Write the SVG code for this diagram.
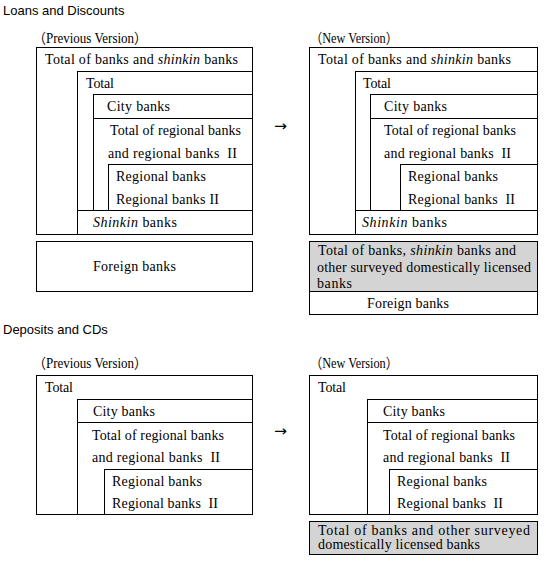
<svg xmlns="http://www.w3.org/2000/svg" width="546" height="561" viewBox="0 0 546 561">
<style>
.b{fill:none;stroke:#000;stroke-width:1}
.g{fill:#d4d4d4;stroke:#000;stroke-width:1}
.w{fill:#fff;stroke:#000;stroke-width:1}
text{font-family:"Liberation Serif","Times New Roman","Noto Sans CJK JP",serif;font-size:14px;fill:#000;white-space:pre}
.h{font-family:"Liberation Sans",Arial,sans-serif;font-size:13px}
.i{font-style:italic}
.a{font-family:"DejaVu Sans",sans-serif;font-size:15px}
</style>
<rect width="546" height="561" fill="#fff"/>
<text class="h" x="3" y="15">Loans and Discounts</text>
<text class="h" x="3" y="334">Deposits and CDs</text>

<g id="connectors">
<text class="a" x="274" y="131" textLength="13" lengthAdjust="spacingAndGlyphs">→</text>
<text class="a" x="274" y="436" textLength="13" lengthAdjust="spacingAndGlyphs">→</text>
</g>

<g id="loans-prev">
<text x="33" y="43" textLength="114" lengthAdjust="spacingAndGlyphs">（Previous Version）</text>
<rect class="b" x="36.5" y="47.5" width="216" height="187"/>
<text x="45" y="64" textLength="193">Total of banks and <tspan class="i">shinkin</tspan> banks</text>
<rect class="b" x="77.5" y="71.5" width="175" height="163"/>
<text x="86" y="88" textLength="28">Total</text>
<rect class="b" x="93.5" y="94.5" width="159" height="116"/>
<line class="b" x1="93.5" y1="118.5" x2="252.5" y2="118.5"/>
<text x="107" y="111" textLength="63">City banks</text>
<text x="110" y="135" textLength="131">Total of regional banks</text>
<text x="108" y="158" textLength="129">and regional banks  II</text>
<rect class="b" x="108.5" y="164.5" width="144" height="46"/>
<text x="116" y="181" textLength="90">Regional banks</text>
<text x="116" y="204" textLength="103">Regional banks II</text>
<line class="b" x1="77.5" y1="210.5" x2="252.5" y2="210.5"/>
<text x="93" y="227" textLength="84"><tspan class="i">Shinkin</tspan> banks</text>
</g>
<g id="loans-prev-foreign">
<rect class="b" x="36.5" y="241.5" width="216" height="50"/>
<text x="93" y="271" textLength="83">Foreign banks</text>
</g>

<g id="loans-new">
<text x="310" y="43" textLength="88" lengthAdjust="spacingAndGlyphs">（New Version）</text>
<rect class="b" x="309.5" y="47.5" width="228" height="187"/>
<text x="318" y="64" textLength="193">Total of banks and <tspan class="i">shinkin</tspan> banks</text>
<rect class="b" x="355.5" y="71.5" width="182" height="163"/>
<text x="363" y="88" textLength="28">Total</text>
<rect class="b" x="370.5" y="94.5" width="167" height="116"/>
<line class="b" x1="370.5" y1="118.5" x2="537.5" y2="118.5"/>
<text x="384" y="111" textLength="63">City banks</text>
<text x="384" y="135" textLength="132">Total of regional banks</text>
<text x="384" y="158" textLength="127">and regional banks  II</text>
<rect class="b" x="400.5" y="164.5" width="137" height="46"/>
<text x="408" y="181" textLength="90">Regional banks</text>
<text x="408" y="204" textLength="107">Regional banks  II</text>
<line class="b" x1="355.5" y1="210.5" x2="537.5" y2="210.5"/>
<text x="362" y="227" textLength="85"><tspan class="i">Shinkin</tspan> banks</text>
</g>
<g id="loans-new-other">
<rect class="g" x="309.5" y="241.5" width="228" height="50"/>
<text x="318" y="255" textLength="198">Total of banks, <tspan class="i">shinkin</tspan> banks and</text>
<text x="317" y="272" textLength="214">other surveyed domestically licensed</text>
<text x="317" y="288" textLength="35">banks</text>
</g>
<g id="loans-new-foreign">
<rect class="w" x="309.5" y="291.5" width="228" height="23"/>
<text x="367" y="308" textLength="82">Foreign banks</text>
</g>

<g id="deposits-prev">
<text x="33" y="368" textLength="114" lengthAdjust="spacingAndGlyphs">（Previous Version）</text>
<rect class="b" x="36.5" y="375.5" width="216" height="139"/>
<text x="45" y="392" textLength="28">Total</text>
<rect class="b" x="77.5" y="399.5" width="175" height="115"/>
<line class="b" x1="77.5" y1="422.5" x2="252.5" y2="422.5"/>
<text x="93" y="416" textLength="62">City banks</text>
<text x="92" y="440" textLength="132">Total of regional banks</text>
<text x="92" y="462" textLength="128">and regional banks  II</text>
<rect class="b" x="104.5" y="469.5" width="148" height="45"/>
<text x="112" y="486" textLength="90">Regional banks</text>
<text x="112" y="508" textLength="106">Regional banks  II</text>
</g>

<g id="deposits-new">
<text x="310" y="368" textLength="88" lengthAdjust="spacingAndGlyphs">（New Version）</text>
<rect class="b" x="309.5" y="375.5" width="228" height="139"/>
<text x="318" y="392" textLength="28">Total</text>
<rect class="b" x="367.5" y="399.5" width="170" height="115"/>
<line class="b" x1="367.5" y1="422.5" x2="537.5" y2="422.5"/>
<text x="383" y="416" textLength="62">City banks</text>
<text x="383" y="440" textLength="132">Total of regional banks</text>
<text x="383" y="462" textLength="127">and regional banks  II</text>
<rect class="b" x="389.5" y="469.5" width="148" height="45"/>
<text x="397" y="486" textLength="90">Regional banks</text>
<text x="397" y="508" textLength="106">Regional banks  II</text>
</g>
<g id="deposits-new-other">
<rect class="g" x="309.5" y="521.5" width="228" height="33"/>
<text x="318" y="535" textLength="212">Total of banks and other surveyed</text>
<text x="318" y="549" textLength="162">domestically licensed banks</text>
</g>
</svg>
